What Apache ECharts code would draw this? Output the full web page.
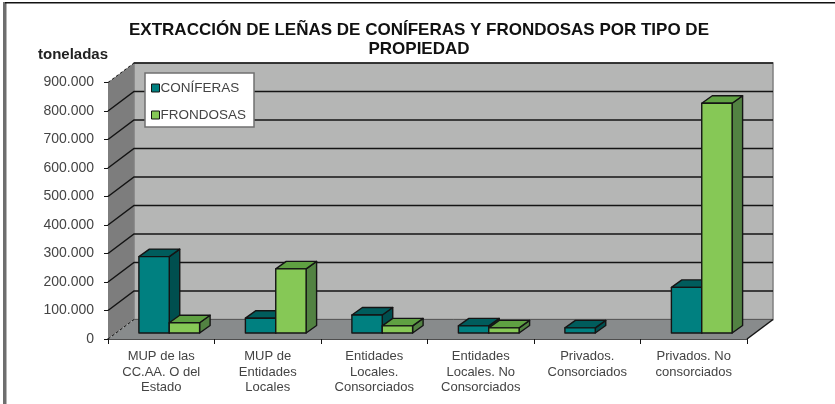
<!DOCTYPE html>
<html><head><meta charset="utf-8">
<style>html,body{margin:0;padding:0;background:#fff}#c{width:835px;height:404px}</style>
<script src="https://cdn.jsdelivr.net/npm/echarts@6/dist/echarts.min.js"></script>
</head><body><div id="c"></div>
<script>
const categories = ["MUP de las\nCC.AA. O del\nEstado","MUP de\nEntidades\nLocales","Entidades\nLocales.\nConsorciados","Entidades\nLocales. No\nConsorciados","Privados.\nConsorciados","Privados. No\nconsorciados"];
const coniferas = [268000,52000,63000,25000,18000,160000];
const frondosas = [36000,225000,25000,18000,null,806000];
const yTicks = [0,100000,200000,300000,400000,500000,600000,700000,800000,900000];
const titleLines = "EXTRACCIÓN DE LEÑAS DE CONÍFERAS Y FRONDOSAS POR TIPO DE\nPROPIEDAD";

const font = '"Liberation Sans", Arial, sans-serif';
const textCol = '#444', ink = '#141414';
const DEPTH = {x:26, y:-19.5};      // full depth of the 3D box
const BAR_POS = {x:8, y:-6};        // front plane of the bars
const BAR_DEPTH = {x:10.5, y:-7.5}; // depth of a bar
const BAR_RATIO = 0.285;

function shade(name){return name==='t'?{front:'#008080',top:'#005c5c',side:'#004f4f'}:{front:'#86c856',top:'#5fa142',side:'#528242'};}

function barRender(kind, idx){
  return function(params, api){
    const v = api.value(1);
    if (v == null || isNaN(v)) return null;
    const base = api.coord([api.value(0),0]);
    const top = api.coord([api.value(0),v]);
    const w = api.size([1,0])[0]*BAR_RATIO;
    const x0 = base[0]+BAR_POS.x+(idx-1)*w, x1 = x0+w;
    const yb = base[1]+BAR_POS.y, yt = top[1]+BAR_POS.y;
    const dx = BAR_DEPTH.x, dy = BAR_DEPTH.y, c = shade(kind);
    const st = (f)=>({fill:f,stroke:ink,lineWidth:1.4,lineJoin:'round'});
    return {type:'group',children:[
      {type:'polygon',shape:{points:[[x1,yb],[x1+dx,yb+dy],[x1+dx,yt+dy],[x1,yt]]},style:st(c.side)},
      {type:'polygon',shape:{points:[[x0,yt],[x1,yt],[x1+dx,yt+dy],[x0+dx,yt+dy]]},style:st(c.top)},
      {type:'rect',shape:{x:x0,y:yt,width:w,height:yb-yt},style:st(c.front)}
    ]};
  };
}

function frameRender(params, api){
  const v = api.value(0);
  const rect = params.coordSys;
  const xL = rect.x, xR = rect.x+rect.width;
  const y = api.coord([0,v])[1];
  const ch = [];
  const line = (pts,opt)=>({type:'polyline',shape:{points:pts},style:Object.assign({fill:null,stroke:ink,lineWidth:1.5},opt||{})});
  if (params.dataIndex===0){
    const yTop = api.coord([0,yTicks[yTicks.length-1]])[1];
    ch.push({type:'polygon',shape:{points:[[xL,y],[xL+DEPTH.x,y+DEPTH.y],[xL+DEPTH.x,yTop+DEPTH.y],[xL,yTop]]},style:{fill:'#7d7d7d'}});
    ch.push({type:'rect',shape:{x:xL+DEPTH.x,y:yTop+DEPTH.y,width:rect.width,height:y-yTop},style:{fill:'#b5b6b5',stroke:'#808080',lineWidth:1.5}});
    ch.push({type:'polygon',shape:{points:[[xL,y],[xR,y],[xR+DEPTH.x,y+DEPTH.y],[xL+DEPTH.x,y+DEPTH.y]]},style:{fill:'#888b8c'}});
    ch.push(line([[xL+DEPTH.x,y+DEPTH.y],[xR+DEPTH.x,y+DEPTH.y]],{stroke:'#5a5a5a',lineWidth:1}));
    ch.push(line([[xL,y],[xL+DEPTH.x,y+DEPTH.y]],{lineDash:[3,2],lineWidth:1}));
    ch.push(line([[xR,y],[xR+DEPTH.x,y+DEPTH.y]]));
  } else if (params.dataIndex===yTicks.length-1){
    ch.push(line([[xL,y],[xL+DEPTH.x,y+DEPTH.y]],{lineDash:[3,2],lineWidth:1}));
    ch.push(line([[xL+DEPTH.x,y+DEPTH.y],[xR+DEPTH.x,y+DEPTH.y]]));
  } else {
    ch.push(line([[xL,y],[xL+DEPTH.x,y+DEPTH.y],[xR+DEPTH.x,y+DEPTH.y]]));
  }
  return {type:'group',children:ch};
}

const chart = echarts.init(document.getElementById('c'),null,{renderer:'canvas'});
chart.setOption({
  animation:false,
  backgroundColor:'#fff',
  title:{text:titleLines,left:414,top:16,textAlign:'center',
    textStyle:{fontFamily:font,fontSize:17,fontWeight:'bold',color:'#111',lineHeight:19}},
  grid:{left:108,right:88,top:82.5,bottom:65,containLabel:false},
  legend:{left:145,top:73,orient:'vertical',itemWidth:8,itemHeight:8,itemGap:13,
    padding:[8,8,5,6],backgroundColor:'#fff',borderColor:'#707070',borderWidth:1.5,
    textStyle:{fontFamily:font,fontSize:13.5,color:textCol,padding:[0,0,0,-4]},
    data:[{name:'CONÍFERAS',icon:'rect',itemStyle:{color:'#008080',borderColor:ink,borderWidth:1}},
          {name:'FRONDOSAS',icon:'rect',itemStyle:{color:'#86c856',borderColor:ink,borderWidth:1}}]},
  xAxis:{type:'category',data:categories,boundaryGap:true,
    axisLine:{lineStyle:{color:ink,width:1.5}},
    axisTick:{show:true,length:5,alignWithLabel:false,lineStyle:{color:ink,width:1}},
    axisLabel:{fontFamily:font,fontSize:13,color:textCol,lineHeight:15.3,margin:10,interval:0}},
  yAxis:{type:'value',min:0,max:900000,interval:100000,
    name:'toneladas',nameLocation:'end',nameGap:20,
    nameTextStyle:{fontFamily:font,fontSize:15,fontWeight:'bold',color:'#222',align:'right'},
    axisLine:{show:true,lineStyle:{color:'#333',width:1}},
    axisTick:{show:true,length:4,lineStyle:{color:ink,width:1}},
    splitLine:{show:false},
    axisLabel:{fontFamily:font,fontSize:14,color:textCol,margin:14,padding:[4,0,0,0],
      formatter:(v)=>String(v).replace(/\B(?=(\d{3})+$)/g,'.')}},
  graphic:[
    {type:'rect',shape:{x:3,y:2,width:3.5,height:402},style:{fill:'#6e6e6e'},silent:true},
    {type:'rect',shape:{x:5,y:2,width:830,height:1.5},style:{fill:'#111'},silent:true}
  ],
  series:[
    {type:'custom',name:'frame',coordinateSystem:'cartesian2d',data:yTicks.map(v=>[v]),encode:{y:0},
     renderItem:frameRender,clip:false,silent:true,z:1,tooltip:{show:false}},
    {type:'custom',name:'CONÍFERAS',coordinateSystem:'cartesian2d',
     data:coniferas.map((v,i)=>[i,v]),encode:{x:0,y:1},renderItem:barRender('t',0),clip:false,z:3,itemStyle:{color:'#008080'}},
    {type:'custom',name:'FRONDOSAS',coordinateSystem:'cartesian2d',
     data:frondosas.map((v,i)=>[i,v]),encode:{x:0,y:1},renderItem:barRender('g',1),clip:false,z:4,itemStyle:{color:'#86c856'}}
  ]
});
</script></body></html>
